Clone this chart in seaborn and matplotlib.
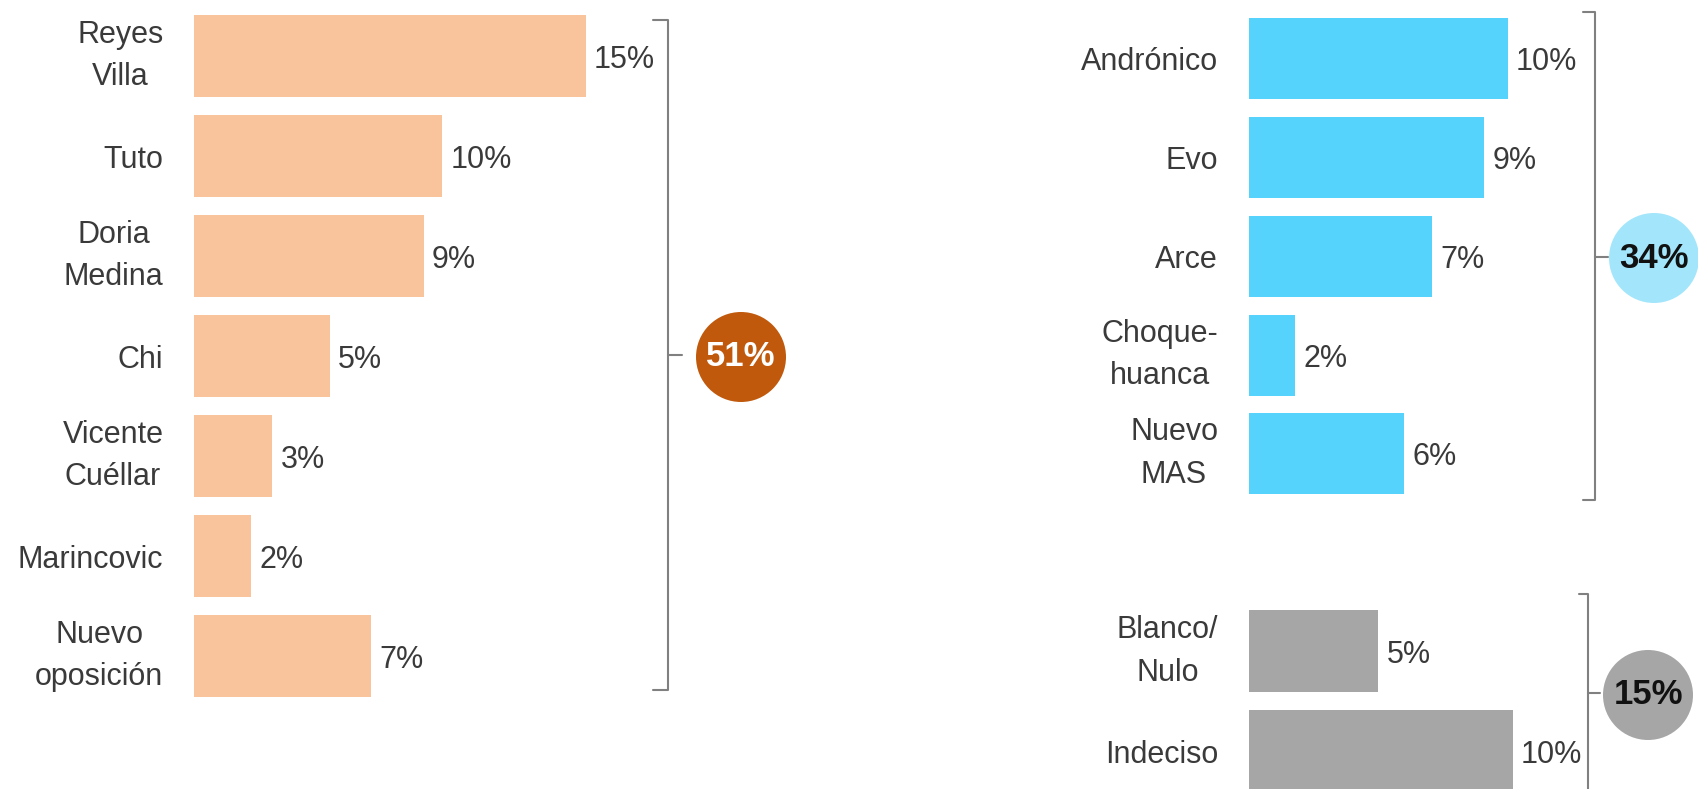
import matplotlib
matplotlib.use('Agg')
import matplotlib.pyplot as plt
import seaborn as sns
import pandas as pd
from matplotlib.patches import Ellipse
from matplotlib.lines import Line2D

# Oposición.
opos_names = ["Reyes\nVilla", "Tuto", "Doria\nMedina", "Chi", "Vicente\nCuéllar",
              "Marincovic", "Nuevo\noposición"]
opos_values = [15.0, 9.5, 8.8, 5.2, 3.0, 2.2, 6.8]
opos_labels = ["15%", "10%", "9%", "5%", "3%", "2%", "7%"]
opos_total = "51%"

# MAS.
mas_names = ["Andrónico", "Evo", "Arce", "Choque-\nhuanca", "Nuevo\nMAS"]
mas_values = [10.0, 9.1, 7.1, 1.8, 6.0]
mas_labels = ["10%", "9%", "7%", "2%", "6%"]
mas_total = "34%"

# Blanco / indeciso.
other_names = ["Blanco/\nNulo", "Indeciso"]
other_values = [5.0, 10.2]
other_labels = ["5%", "10%"]
other_total = "15%"

W, H = 1698, 789

sns.set_style("white")
plt.rcParams['font.family'] = ['Liberation Sans Narrow', 'Liberation Sans', 'DejaVu Sans']

fig = plt.figure(figsize=(W / 100, H / 100), dpi=100)


def px_axes(left, top, width, height):
    return fig.add_axes([left / W, 1 - (top + height) / H, width / W, height / H])


def draw_bars(ax, names, values, labels, color, xmax):
    df = pd.DataFrame({"name": names, "value": values})
    sns.barplot(data=df, x="value", y="name", orient="h", color=color,
                saturation=1, width=0.82, linewidth=0, ax=ax)
    ax.set_xlim(0, xmax)
    ax.set_ylim(len(names) - 0.5, -0.5)
    ax.set_xlabel("")
    ax.set_ylabel("")
    ax.set_xticks([])
    ax.tick_params(axis="y", length=0, pad=22, labelsize=22, labelcolor="#3a3a3a")
    for lab in ax.get_yticklabels():
        lab.set_multialignment("center")
        if "\n" in lab.get_text():
            lab.set_linespacing(1.55)
            lab.set_va("center")
    sns.despine(ax=ax, left=True, bottom=True)
    texts = ax.bar_label(ax.containers[0], labels=labels, padding=6, fontsize=22,
                         color="#3a3a3a")
    for t in texts:
        t.set_va("center_baseline")


def bracket(x, top, bottom, tick_y, serif=15, tick=14):
    xs = [x - serif, x, x, x - serif]
    ys = [top, top, bottom, bottom]
    fig.add_artist(Line2D([v / W for v in xs], [1 - v / H for v in ys],
                          transform=fig.transFigure, color="#808080", lw=1.5))
    fig.add_artist(Line2D([x / W, (x + tick) / W], [1 - tick_y / H, 1 - tick_y / H],
                          transform=fig.transFigure, color="#808080", lw=1.5))


def bubble(cx, cy, r, text, face, tcolor):
    fig.add_artist(Ellipse((cx / W, 1 - cy / H), 2 * r / W, 2 * r / H,
                           transform=fig.transFigure, facecolor=face, edgecolor="none"))
    fig.text(cx / W, 1 - cy / H, text, ha="center", va="center", fontsize=25,
             fontweight="bold", color=tcolor, family=['Liberation Sans', 'DejaVu Sans'])


ax1 = px_axes(194, 6, 522, 700)
draw_bars(ax1, opos_names, opos_values, opos_labels, "#F9C39B", 20)

ax2 = px_axes(1248.6, 9.6, 310.8, 493.5)
draw_bars(ax2, mas_names, mas_values, mas_labels, "#55D3FD", 12)

ax3 = px_axes(1248.6, 601.4, 310.8, 200)
draw_bars(ax3, other_names, other_values, other_labels, "#A6A6A6", 12)

bracket(668, 19.5, 690, 355)
bubble(741, 357, 45, opos_total, "#C0590C", "white")

bracket(1595, 12, 500, 257, serif=12, tick=13)
bubble(1654, 258, 45, mas_total, "#A3E6FB", "#111111")

bracket(1588, 593.5, 800, 693, serif=9, tick=12)
bubble(1648, 695, 45, other_total, "#A6A6A6", "#111111")

fig.savefig("out.png", dpi=100, facecolor="white")
plt.close()
